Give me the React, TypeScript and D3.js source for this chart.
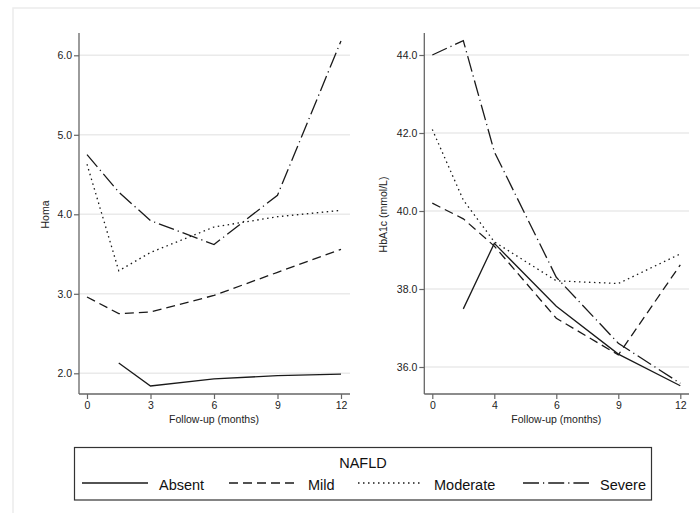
import React from "react";
import * as d3 from "d3";
import { useEffect, useRef } from "react";

// follow-up months (left panel) and values
const homaMonths = [0, 1.5, 3, 6, 9, 12];
const homaAbsent = [null, 2.13, 1.84, 1.93, 1.97, 1.99];
const homaMild = [2.96, 2.75, 2.77, 2.98, 3.27, 3.56];
const homaModerate = [4.63, 3.29, 3.52, 3.84, 3.97, 4.05];
const homaSevere = [4.75, 4.28, 3.92, 3.62, 4.24, 6.18];

const hbaMonths = [0, 2, 4, 6, 9, 12];
const hbaAbsent = [null, 37.49, 39.17, 37.56, 36.33, 35.52];
const hbaMild = [40.2, 39.8, 39.1, 37.25, 36.31, 38.62];
const hbaModerate = [42.09, 40.28, 39.21, 38.21, 38.14, 38.9];
const hbaSevere = [44.0, 44.37, 41.52, 38.3, 36.61, 35.58];

const homaXTicks = [0, 3, 6, 9, 12];
const hbaXTicks = [0, 4, 6, 9, 12];
const homaYTicks = [2, 3, 4, 5, 6];
const hbaYTicks = [36, 38, 40, 42, 44];

const groups = ["Absent", "Mild", "Moderate", "Severe"];
const dashes = ["none", "9,5", "1.5,3.5", "16,4,1.2,4"];

const font = "Liberation Sans, Arial, sans-serif";

const App = () => {
  const svgRef = useRef(null);

  useEffect(() => {
    const svg = d3.select(svgRef.current);
    svg.selectAll("*").remove();

    // faint outer frame
    svg.append("rect")
      .attr("x", 13).attr("y", 8).attr("width", 700).attr("height", 520)
      .attr("fill", "none").attr("stroke", "#ececec").attr("stroke-width", 1.5);

    function drawPanel(opts) {
      const { x, y, xTicks, yTicks, months, series, yLabel, left, right, top, bottom, yFmt } = opts;
      const g = svg.append("g");

      // gridlines
      g.selectAll(".grid").data(yTicks).join("line")
        .attr("x1", left).attr("x2", right)
        .attr("y1", (d) => y(d)).attr("y2", (d) => y(d))
        .attr("stroke", "#eaeaea").attr("stroke-width", 1.5);

      const yAxis = g.append("g")
        .attr("transform", `translate(${left},0)`)
        .call(d3.axisLeft(y).tickValues(yTicks).tickFormat(yFmt).tickSize(5).tickPadding(2));
      yAxis.select(".domain").attr("d", `M0,${top}V${bottom}`);

      const xAxis = g.append("g")
        .attr("transform", `translate(0,${bottom})`)
        .call(d3.axisBottom(x).tickValues(xTicks).tickFormat(d3.format("d")).tickSize(5).tickPadding(3));
      xAxis.select(".domain").attr("d", `M${left},0H${right}`);

      [xAxis, yAxis].forEach((ax) => {
        ax.select(".domain").attr("stroke", "#666").attr("stroke-width", 1.3);
        ax.selectAll(".tick line").attr("stroke", "#666").attr("stroke-width", 1.2);
        ax.selectAll("text").attr("font-family", font).attr("font-size", 10.5).attr("fill", "#222");
      });

      g.append("text")
        .attr("x", (x(xTicks[0]) + x(xTicks[xTicks.length - 1])) / 2)
        .attr("y", 423)
        .attr("text-anchor", "middle")
        .attr("font-family", font).attr("font-size", 10.5).attr("fill", "#222")
        .text("Follow-up (months)");

      g.append("text")
        .attr("transform", `translate(${opts.labelX},${(top + bottom) / 2 + 1}) rotate(-90)`)
        .attr("text-anchor", "middle")
        .attr("font-family", font).attr("font-size", 10.5).attr("fill", "#222")
        .text(yLabel);

      const line = d3.line()
        .defined((d) => d[1] != null)
        .x((d) => x(d[0]))
        .y((d) => y(d[1]));

      series.forEach((vals, i) => {
        g.append("path")
          .attr("d", line(months.map((m, j) => [m, vals[j]])))
          .attr("fill", "none")
          .attr("stroke", "#1a1a1a")
          .attr("stroke-width", 1.3)
          .attr("stroke-dasharray", dashes[i]);
      });
    }

    // left panel: Homa
    const xL = d3.scaleLinear().domain([0, 12]).range([87, 341]);
    const yL = d3.scaleLinear().domain([2, 6]).range([373.3, 55.3]);
    drawPanel({
      x: xL, y: yL, xTicks: homaXTicks, yTicks: homaYTicks, months: homaMonths,
      series: [homaAbsent, homaMild, homaModerate, homaSevere],
      yLabel: "Homa", left: 79, right: 350, top: 33, bottom: 394, labelX: 49,
      yFmt: d3.format(".1f"),
    });

    // right panel: HbA1c, follow-up ticks are evenly spaced
    const step = 62;
    const xR = d3.scaleLinear().domain(hbaXTicks).range(hbaXTicks.map((_, i) => 432.3 + i * step));
    const yR = d3.scaleLinear().domain([36, 44]).range([367, 55]);
    drawPanel({
      x: xR, y: yR, xTicks: hbaXTicks, yTicks: hbaYTicks, months: hbaMonths,
      series: [hbaAbsent, hbaMild, hbaModerate, hbaSevere],
      yLabel: "HbA1c (mmol/L)", left: 424.3, right: 689, top: 33, bottom: 394, labelX: 387,
      yFmt: d3.format(".1f"),
    });

    // legend
    const lg = svg.append("g");
    lg.append("rect")
      .attr("x", 74.5).attr("y", 447.5).attr("width", 577).attr("height", 52.5)
      .attr("fill", "white").attr("stroke", "#333").attr("stroke-width", 1.2);
    lg.append("text")
      .attr("x", 363).attr("y", 468)
      .attr("text-anchor", "middle")
      .attr("font-family", font).attr("font-size", 14.5).attr("fill", "#111")
      .text("NAFLD");

    const sampleX = [82, 229, 358, 523];
    const sampleW = [66, 68, 65, 66];
    groups.forEach((name, i) => {
      lg.append("line")
        .attr("x1", sampleX[i]).attr("x2", sampleX[i] + sampleW[i])
        .attr("y1", 483).attr("y2", 483)
        .attr("stroke", "#1a1a1a").attr("stroke-width", 1.3)
        .attr("stroke-dasharray", dashes[i]);
      lg.append("text")
        .attr("x", sampleX[i] + sampleW[i] + 11).attr("y", 490)
        .attr("font-family", font).attr("font-size", 14.5).attr("fill", "#111")
        .text(name);
    });
  }, []);

  return (
    <svg
      ref={svgRef}
      width={700}
      height={513}
      style={{ position: "fixed", left: 0, top: 0, background: "white" }}
    ></svg>
  );
};

export default App;
